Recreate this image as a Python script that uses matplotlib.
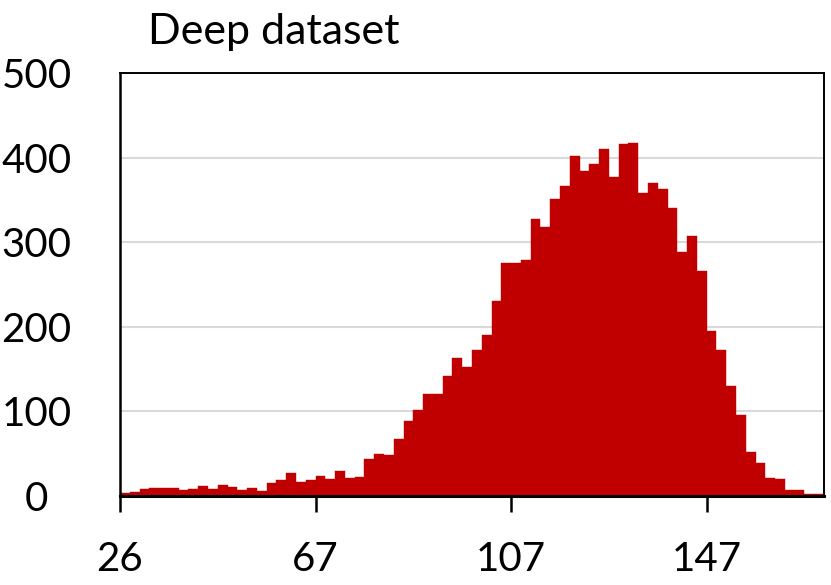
import numpy as np
import matplotlib
matplotlib.use("Agg")
import matplotlib.pyplot as plt

plt.rcParams['font.family'] = ['Lato', 'DejaVu Sans']

# histogram counts (72 bins)
counts = [4, 5, 8, 10, 9, 10, 7, 8, 12, 8,
          13, 11, 7, 9, 6, 15, 19, 27, 17, 19,
          24, 20, 30, 21, 23, 44, 50, 48, 67, 89,
          102, 121, 120, 142, 163, 152, 172, 190, 231, 275,
          275, 279, 327, 318, 351, 367, 402, 384, 392, 410,
          377, 416, 417, 358, 370, 363, 340, 289, 307, 266,
          195, 172, 130, 96, 52, 39, 21, 20, 7, 7,
          2, 2]
tick_bins = [0, 20, 40, 60]
tick_labels = ["26", "67", "107", "147"]
y_ticks = [0, 100, 200, 300, 400, 500]

fig = plt.figure(figsize=(8.31, 5.85), dpi=100)
ax = fig.add_axes([120/831, 89/585, 704/831, 423/585])

x = np.arange(len(counts))
ax.bar(x, counts, width=1.0, align='edge', color='#C00000',
       edgecolor='#C00000', linewidth=0.3, zorder=2)

ax.set_xlim(0, len(counts))
ax.set_ylim(0, 500)
ax.set_yticks(y_ticks)
ax.set_yticklabels([str(v) for v in y_ticks], ha='center')
ax.set_xticks(tick_bins)
ax.set_xticklabels(tick_labels)

ax.yaxis.grid(True, color='#D9D9D9', lw=1.5, zorder=0)
ax.set_axisbelow(True)

ax.tick_params(axis='y', length=0, pad=60, labelsize=29)
ax.tick_params(axis='x', length=11.5, width=1.8, direction='out',
               pad=21, labelsize=29)

for s in ['top', 'right']:
    ax.spines[s].set_linewidth(1.4)
ax.spines['left'].set_linewidth(1.8)
ax.spines['bottom'].set_linewidth(2.2)

fig.text(148/831, (585-44)/585, "Deep dataset", fontsize=31,
         ha='left', va='baseline')

fig.savefig("out.png", dpi=100)
